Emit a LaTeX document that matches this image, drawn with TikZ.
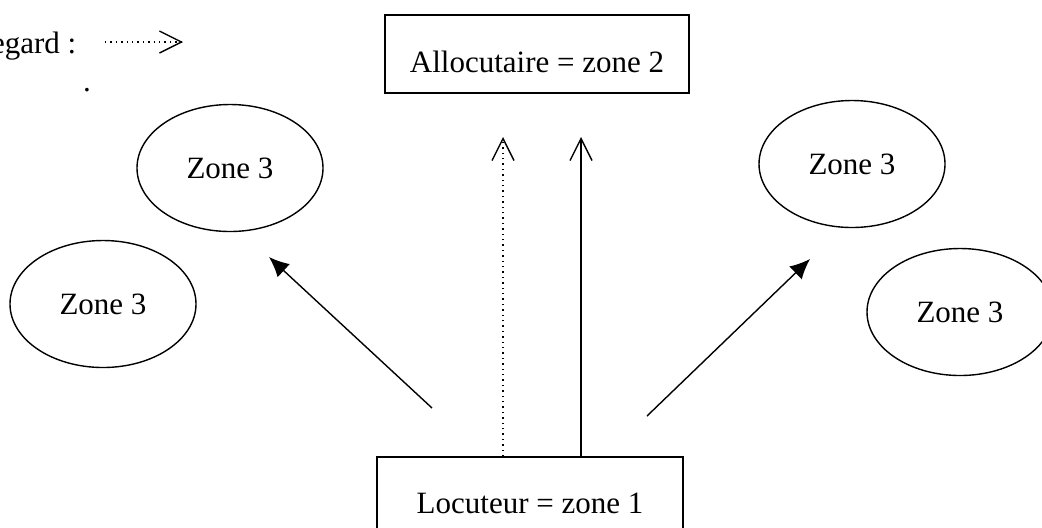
\documentclass[tikz,border=0pt]{standalone}
\usepackage{fontspec}
\setmainfont{Liberation Serif}
\usetikzlibrary{arrows.meta,shapes.geometric}

\tikzset{
  boite/.style={draw,rectangle,inner sep=0pt,text depth=0pt},
  zone/.style={draw,ellipse,minimum width=93pt,minimum height=63.5pt,inner sep=0pt},
  regard/.style={dotted,-{Straight Barb[length=11pt,width=11pt,line width=0.7pt]}},
  parole/.style={-{Straight Barb[length=11pt,width=11pt,line width=0.7pt]}}
}

\begin{document}
\begin{tikzpicture}[x=0.5pt,y=-0.5pt,line width=0.7pt,font=\fontsize{15.5}{18}\selectfont]
\useasboundingbox (0,0) rectangle (1042,527);
\clip (0,0) rectangle (1042,527);
\begin{scope}[>={Latex[length=10pt,width=9pt]}]

    \node[anchor=base east,inner sep=0pt] (leg) at (77,53) {Regard :};
    \coordinate (leg1) at (105,42);
    \coordinate (leg2) at (183,42);
    \draw[regard] (leg1) -- (leg2);
    \node[anchor=base,inner sep=0pt] (pt) at (87,91) {.};

    \node[boite,minimum width=152pt,minimum height=39pt,text height=18pt] (allo) at (537,54) {Allocutaire = zone 2};
    \node[boite,minimum width=153pt,minimum height=49pt,text height=7pt] (loc) at (530,506) {Locuteur = zone 1};

    \node[zone] (z1) at (230,168) {Zone 3};
    \node[zone] (z2) at (103,304) {Zone 3};
    \node[zone] (z3) at (852,164) {Zone 3};
    \node[zone] (z4) at (960,312) {Zone 3};

    \coordinate (v1) at (503,137);
    \coordinate (v2) at (581,137);
    \draw[regard] (loc.north -| v1) -- (v1);
    \draw[parole] (loc.north -| v2) -- (v2);

    \coordinate (g0) at (432,408);
    \coordinate (g1) at (269,257);
    \coordinate (d0) at (647,416);
    \coordinate (d1) at (810,259);
    \draw[->] (g0) -- (g1);
    \draw[->] (d0) -- (d1);

\end{scope}
\end{tikzpicture}
\end{document}
